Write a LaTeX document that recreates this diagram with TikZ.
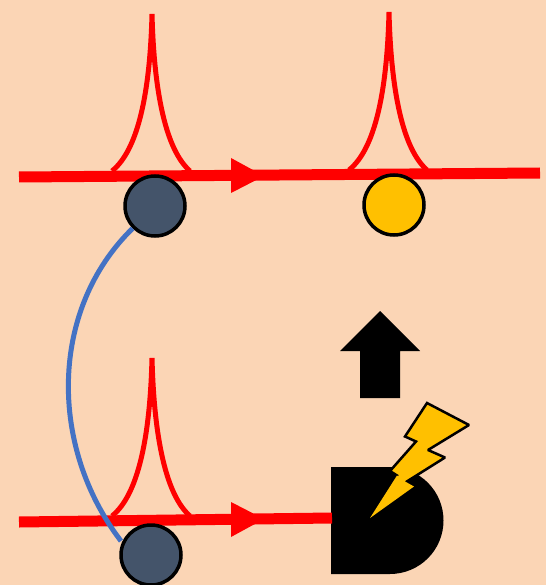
\documentclass[tikz,border=0pt]{standalone}
\definecolor{bgc}{RGB}{251,213,181}
\definecolor{slate}{RGB}{68,84,106}
\definecolor{amber}{RGB}{255,192,0}
\definecolor{linkblue}{RGB}{68,114,196}
\tikzset{
  beam/.style={draw=red,line width=11pt},
  peak/.style={draw=red,line width=5pt,line join=miter,miter limit=20},
  head/.style={fill=red},
  atom/.style={circle,draw=black,line width=3.5pt,minimum size=60pt,inner sep=0pt},
  link/.style={draw=linkblue,line width=5pt}
}
\newcommand{\peakat}[3]{\draw[peak] (#1-40,#2) .. controls (#1-14,#2-21) and (#1-2,#2-78) .. (#1,#3) .. controls (#1+2,#2-78) and (#1+14,#2-21) .. (#1+38,#2);}
\begin{document}
\begin{tikzpicture}[x=1pt,y=-1pt]
\useasboundingbox (0,0) rectangle (546,585);
\fill[bgc] (0,0) rectangle (546,585);
\coordinate (t1) at (19,177);
\coordinate (t2) at (540,173);
\coordinate (b1) at (19,522);
\draw[beam] (t1) -- (t2);
\peakat{152}{171}{14}
\peakat{389}{170}{12}
\peakat{152}{516}{358}
\fill[head] (231,158) -- (264,176) -- (231,193) -- cycle;
\fill[head] (231,502) -- (264,519) -- (231,537) -- cycle;
% detector
\fill[black] (331,467) -- (390,467) arc[start angle=-90,end angle=90,radius=53.5] -- (331,574) -- cycle;
\coordinate (det) at (332,518);
\draw[beam] (b1) -- (det);
\node[atom,fill=slate] (qa) at (155,206) {};
\node[atom,fill=amber] (qb) at (394,205) {};
\draw[link] (qa.225) .. controls (49,310) and (49,447) .. (121,541);
\node[atom,fill=slate] (qc) at (151,555) {};
% up arrow
\fill[black] (380,311) -- (420,351) -- (400,351) -- (400,398) -- (360,398) -- (360,351) -- (340,351) -- cycle;
% lightning
\draw[fill=amber,draw=black,line width=2.5pt,line join=miter,miter limit=2] (427,403) -- (469,425) -- (428,450) -- (445,457.5) -- (406,482) -- (414,486.5) -- (370,518) -- (397,475.5) -- (390,471) -- (416,441.5) -- (405,436.5) -- cycle;
\fill[amber] (370,518) -- (414,486.5) -- (406,482) -- (397,475.5) -- cycle;
\end{tikzpicture}
\end{document}
